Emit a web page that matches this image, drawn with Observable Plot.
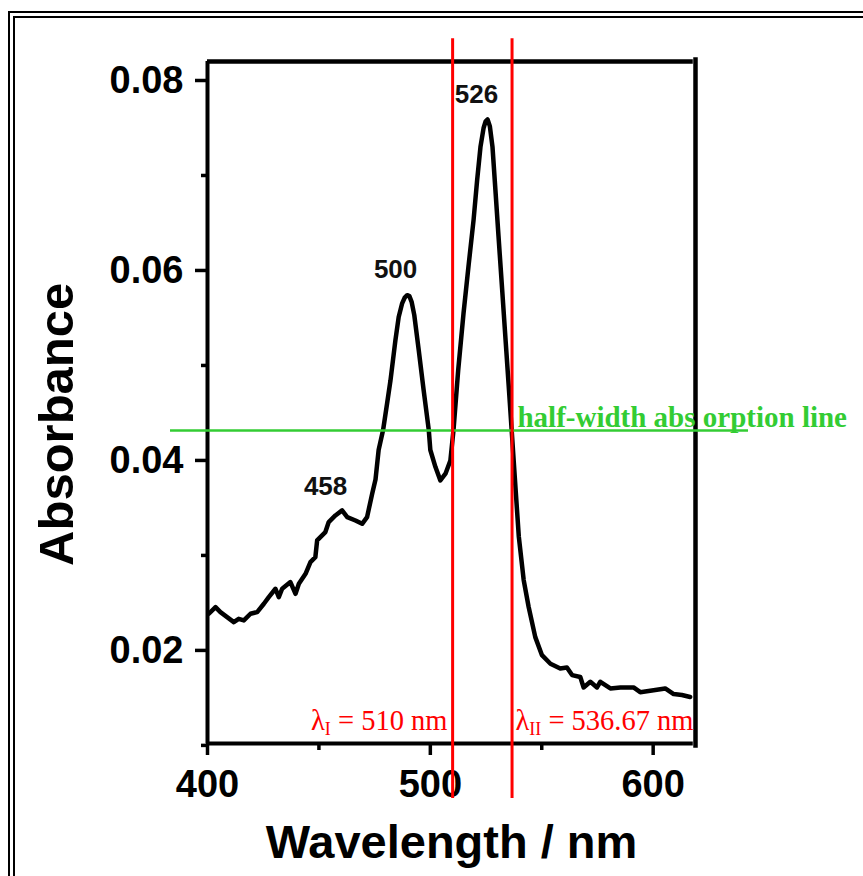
<!DOCTYPE html>
<html>
<head>
<meta charset="utf-8">
<script src="https://cdn.jsdelivr.net/npm/d3@7"></script>
<script src="https://cdn.jsdelivr.net/npm/@observablehq/plot@0.6"></script>
<style>
  html, body { margin: 0; padding: 0; background: #fff; overflow: hidden; }
  #wrap { position: relative; width: 863px; height: 876px; overflow: hidden; }
  #border { position: absolute; left: 8px; top: 11px; width: 2000px; height: 2000px;
            border-left: 7px double #000; border-top: 7px double #000; pointer-events: none; }
  #chart { position: absolute; left: 0; top: 0; }
</style>
</head>
<body>
<div id="wrap"><div id="border"></div><div id="chart"></div></div>
<script>
// ---- data ----
const wavelength = [
  400.6, 403.6, 405.8, 408.8, 411.8, 414.0, 416.3, 419.3, 422.3, 425.3,
  427.5, 430.5, 432.0, 433.5, 437.2, 439.5, 441.0, 444.0, 446.2, 448.4,
  449.2, 452.9, 454.4, 457.4, 460.4, 462.7, 466.4, 469.4, 471.6, 473.9,
  475.4, 476.8, 478.8, 480.6, 482.1, 484.3, 485.8, 487.3, 488.5, 489.6,
  490.6, 491.6, 492.8, 494.8, 497.0, 499.3, 500.0, 502.3, 504.5, 506.8,
  509.0, 510.4, 512.5, 514.9, 517.2, 519.4, 521.0, 522.5, 523.9, 524.8,
  525.7, 526.7, 527.9, 529.2, 530.6, 532.2, 533.7, 535.1, 536.5, 537.4,
  538.2, 539.7, 541.9, 544.1, 547.1, 550.1, 553.9, 558.3, 561.3, 563.6,
  567.3, 568.8, 571.8, 574.8, 576.3, 580.8, 585.3, 591.2, 594.2, 600.2,
  605.4, 609.2, 612.9, 616.6
];
const absorbance = [
  0.02386, 0.02456, 0.02403, 0.02351, 0.02298, 0.02333, 0.02316, 0.02386, 0.02403, 0.02491,
  0.02561, 0.02649, 0.02561, 0.02649, 0.02719, 0.02596, 0.02702, 0.02807, 0.02930, 0.02982,
  0.03158, 0.03246, 0.03351, 0.03421, 0.03474, 0.03403, 0.03368, 0.03333, 0.03403, 0.03649,
  0.03800, 0.04110, 0.04320, 0.04600, 0.04840, 0.05260, 0.05510, 0.05650, 0.05715, 0.05740,
  0.05730, 0.05670, 0.05530, 0.05160, 0.04740, 0.04320, 0.04110, 0.03930, 0.03790, 0.03860,
  0.04000, 0.04320, 0.04950, 0.05550, 0.06060, 0.06530, 0.06950, 0.07300, 0.07500, 0.07570,
  0.07590, 0.07520, 0.07300, 0.06850, 0.06360, 0.05810, 0.05290, 0.04810, 0.04320, 0.04000,
  0.03720, 0.03200, 0.02740, 0.02460, 0.02140, 0.01950, 0.01860, 0.01810, 0.01820, 0.01740,
  0.01720, 0.01610, 0.01670, 0.01610, 0.01670, 0.01600, 0.01610, 0.01610, 0.01560, 0.01580,
  0.01600, 0.01540, 0.01530, 0.01510
];
const xDomain = [400, 619];
const yDomain = [0.0102, 0.082];
const xMajorTicks = [400, 500, 600];
const xMinorTicks = [450, 550];
const yMajorTicks = [0.02, 0.04, 0.06, 0.08];
const yMinorTicks = [0.01, 0.03, 0.05, 0.07];

const peakLabels = ["458", "500", "526"];
const peakLabelX = [453.0, 484.4, 520.7];
const peakLabelY = [0.0364, 0.0592, 0.0776];

const lambdaLines = [510, 536.67];
const lambdaLineExtent = [0.0044, 0.0844];
const lambdaLabels = ["λI = 510 nm", "λII = 536.67 nm"];
const lambdaLabelX = [507.7, 538.2];
const lambdaLabelY = [0.01157, 0.01157];

const halfWidthLevel = 0.04316;
const halfWidthExtent = [383.4, 642.8];
const halfWidthLabel = "half-width abs orption line";
const halfWidthLabelX = 539.1;
const halfWidthLabelY = 0.0435;

const xTitle = "Wavelength / nm";
const yTitle = "Absorbance";
const yTitleCenter = 0.0438;

const spineTop = 0.082, spineBottom = 0.0102;
const rightSpineExtent = [0.0097, 0.0824];

// ---- build ----
const spectrum = wavelength.map((w, i) => ({w, a: absorbance[i]}));
const red = "#ff0000", green = "#33cc33";
const serif = "'Liberation Serif', 'Times New Roman', serif";

const chart = Plot.plot({
  width: 863, height: 876,
  marginLeft: 207, marginRight: 168, marginTop: 61, marginBottom: 133,
  x: {domain: xDomain},
  y: {domain: yDomain},
  style: {fontFamily: "'Liberation Sans', Arial, sans-serif", background: "transparent", color: "#000"},
  marks: [
    // spines
    Plot.ruleX([xDomain[0]], {y1: spineBottom, y2: spineTop, stroke: "#000", strokeWidth: 4}),
    Plot.ruleY([spineBottom], {x1: xDomain[0], x2: 618, stroke: "#000", strokeWidth: 4}),
    Plot.ruleY([spineTop], {x1: xDomain[0], x2: 618, stroke: "#000", strokeWidth: 4.5}),
    Plot.ruleX([xDomain[1]], {y1: rightSpineExtent[0], y2: rightSpineExtent[1], stroke: "#000", strokeWidth: 4.5}),
    // axes
    Plot.axisX({ticks: xMajorTicks, tickSize: 12, tickPadding: 15, fontSize: 38, fontWeight: "bold",
                strokeWidth: 3.5, label: null, tickFormat: d => String(d)}),
    Plot.axisX({ticks: xMinorTicks, tickSize: 7, strokeWidth: 3.5, label: null, tickFormat: () => ""}),
    Plot.axisY({ticks: yMajorTicks, tickSize: 12, tickPadding: 12, fontSize: 38, fontWeight: "bold",
                strokeWidth: 3.5, label: null, tickFormat: d3.format(".2f")}),
    Plot.axisY({ticks: yMinorTicks, tickSize: 6, strokeWidth: 3.5, label: null, tickFormat: () => ""}),
    // spectrum
    Plot.line(spectrum, {x: "w", y: "a", stroke: "#000", strokeWidth: 4.5, strokeLinejoin: "round"}),
    // peak labels
    Plot.text(peakLabels, {x: (d, i) => peakLabelX[i], y: (d, i) => peakLabelY[i], text: d => d,
               fontSize: 26, fontWeight: "bold", lineAnchor: "bottom", fill: "#111"}),
    // half-width line
    Plot.ruleY([halfWidthLevel], {x1: halfWidthExtent[0], x2: halfWidthExtent[1], stroke: green, strokeWidth: 2.5}),
    Plot.text([halfWidthLabel], {x: () => halfWidthLabelX, y: () => halfWidthLabelY, text: d => d,
               textAnchor: "start", lineAnchor: "bottom", fontSize: 29, fontWeight: "bold",
               fontFamily: serif, fill: green}),
    // lambda lines
    Plot.ruleX(lambdaLines, {y1: lambdaLineExtent[0], y2: lambdaLineExtent[1], stroke: red, strokeWidth: 3}),
    Plot.text([lambdaLabels[0]], {x: () => lambdaLabelX[0], y: () => lambdaLabelY[0], text: d => d,
               textAnchor: "end", lineAnchor: "bottom", fontSize: 28.5, fontFamily: serif, fill: red}),
    Plot.text([lambdaLabels[1]], {x: () => lambdaLabelX[1], y: () => lambdaLabelY[1], text: d => d,
               textAnchor: "start", lineAnchor: "bottom", fontSize: 28.5, fontFamily: serif, fill: red}),
    // axis titles
    Plot.text([xTitle], {frameAnchor: "bottom", text: d => d, dy: 114, lineAnchor: "bottom", textAnchor: "middle",
               fontSize: 47, fontWeight: "bold"}),
    Plot.text([yTitle], {frameAnchor: "left", y: () => yTitleCenter, text: d => d, dx: -135, rotate: -90,
               textAnchor: "middle", lineAnchor: "bottom", fontSize: 49, fontWeight: "bold"})
  ]
});

// subscripts for the lambda labels
d3.select(chart).selectAll("text").each(function() {
  const t = this.textContent;
  const m = /^λ(I+)( = .*)$/.exec(t);
  if (!m || this.children.length) return;
  this.textContent = "";
  const sel = d3.select(this);
  sel.append("tspan").text("λ");
  sel.append("tspan").attr("font-size", "18px").attr("dy", "5").text(m[1]);
  sel.append("tspan").attr("dy", "-5").text(m[2]);
});

document.getElementById("chart").appendChild(chart);
</script>
</body>
</html>
